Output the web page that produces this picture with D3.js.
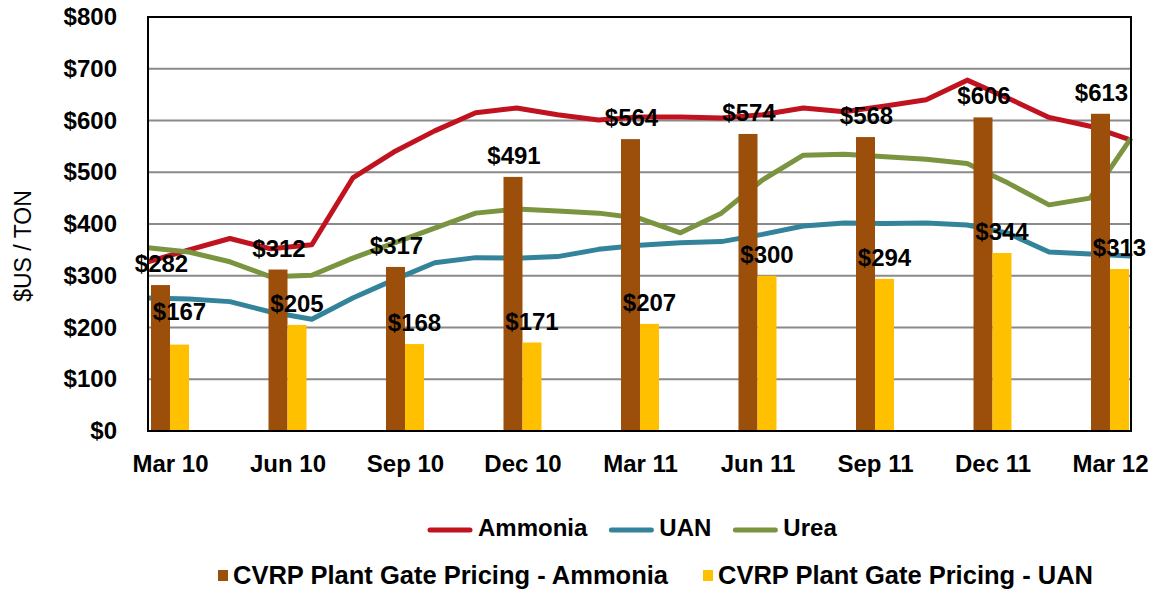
<!DOCTYPE html>
<html>
<head>
<meta charset="utf-8">
<script src="https://cdn.jsdelivr.net/npm/d3@7"></script>
<style>
  body { margin: 0; background: #fff; }
  text { font-family: "Liberation Sans", Arial, sans-serif; }
</style>
</head>
<body>
<div id="chart"></div>
<script>
// quarterly plant gate prices (bars)
const quarters = ["Mar 10", "Jun 10", "Sep 10", "Dec 10", "Mar 11", "Jun 11", "Sep 11", "Dec 11", "Mar 12"];
const gateAmmonia = [282, 312, 317, 491, 564, 574, 568, 606, 613];
const gateUAN = [167, 205, 168, 171, 207, 300, 294, 344, 313];

// monthly market prices (lines), Mar 10 .. Mar 12
const months = d3.range(25);
const ammonia = [327, 350, 372, 352, 360, 489, 539, 580, 615, 624, 611, 601, 607, 607, 605, 611, 624, 617, 628, 640, 678, 643, 606, 589, 562];
const uan = [257, 255, 250, 230, 216, 257, 292, 325, 335, 334, 337, 351, 359, 364, 366, 380, 396, 402, 401, 402, 398, 382, 346, 342, 338];
const urea = [354, 346, 327, 298, 301, 334, 363, 392, 421, 429, 425, 421, 411, 383, 421, 485, 533, 535, 530, 525, 517, 479, 437, 450, 566];

const yTicks = [0, 100, 200, 300, 400, 500, 600, 700, 800];

const COLORS = {
    ammonia: "#C0131F",
    uan: "#33849A",
    urea: "#7A9440",
    gateAmmonia: "#9C4F0B",
    gateUAN: "#FFC000",
    grid: "#8a8a8a"
};

const CONFIG = {
    width: 1152,
    height: 593,
    margin: { top: 17, left: 148, right: 21, bottom: 162 }
};

function render() {
    const W = CONFIG.width - CONFIG.margin.left - CONFIG.margin.right;
    const H = CONFIG.height - CONFIG.margin.top - CONFIG.margin.bottom;

    const svg = d3.select("#chart").append("svg")
        .attr("width", CONFIG.width)
        .attr("height", CONFIG.height);

    const g = svg.append("g")
        .attr("transform", `translate(${CONFIG.margin.left},${CONFIG.margin.top})`);

    const y = d3.scaleLinear().domain([0, 800]).range([H, 0]);
    const xq = d3.scalePoint().domain(quarters).range([22, W - 21]);
    const xm = d3.scalePoint().domain(months).range([0, W]);
    const barW = 19;

    // grid
    g.append("g").selectAll("line")
        .data(yTicks.filter(d => d > 0 && d < 800))
        .join("line")
        .attr("x1", 0).attr("x2", W)
        .attr("y1", d => y(d)).attr("y2", d => y(d))
        .attr("stroke", COLORS.grid)
        .attr("stroke-width", 2);

    // lines
    const line = d3.line()
        .x((d, i) => xm(i))
        .y(d => y(d));
    [[ammonia, COLORS.ammonia], [uan, COLORS.uan], [urea, COLORS.urea]].forEach(([vals, col]) => {
        g.append("path")
            .datum(vals)
            .attr("d", line)
            .attr("fill", "none")
            .attr("stroke", col)
            .attr("stroke-width", 5)
            .attr("stroke-linejoin", "round");
    });

    // bars
    g.append("g").selectAll("rect")
        .data(quarters)
        .join("rect")
        .attr("x", d => xq(d) - barW)
        .attr("y", (d, i) => y(gateAmmonia[i]))
        .attr("width", barW)
        .attr("height", (d, i) => H - y(gateAmmonia[i]))
        .attr("fill", COLORS.gateAmmonia);

    g.append("g").selectAll("rect")
        .data(quarters)
        .join("rect")
        .attr("x", d => xq(d))
        .attr("y", (d, i) => y(gateUAN[i]))
        .attr("width", barW)
        .attr("height", (d, i) => H - y(gateUAN[i]))
        .attr("fill", COLORS.gateUAN);

    // frame
    g.append("rect")
        .attr("width", W).attr("height", H)
        .attr("fill", "none")
        .attr("stroke", "#000")
        .attr("stroke-width", 2);

    // value labels
    const labelStyle = sel => sel
        .attr("text-anchor", "middle")
        .attr("font-size", 24)
        .attr("font-weight", "bold")
        .attr("fill", "#000");

    g.append("g").selectAll("text")
        .data(quarters)
        .join("text")
        .attr("x", d => xq(d) - barW / 2 + 1)
        .attr("y", (d, i) => y(gateAmmonia[i]) - 13)
        .text((d, i) => "$" + gateAmmonia[i])
        .call(labelStyle);

    g.append("g").selectAll("text")
        .data(quarters)
        .join("text")
        .attr("x", d => xq(d) + barW / 2)
        .attr("y", (d, i) => y(gateUAN[i]) - (i === 0 ? 25 : 13))
        .text((d, i) => "$" + gateUAN[i])
        .call(labelStyle);

    // axes
    const yAxis = g.append("g")
        .call(d3.axisLeft(y).tickValues(yTicks).tickSize(0).tickPadding(31).tickFormat(d => "$" + d));
    yAxis.select(".domain").remove();
    yAxis.selectAll("text")
        .attr("font-size", 24).attr("font-weight", "bold").attr("fill", "#000")
        .style("font-family", "'Liberation Sans', Arial, sans-serif");

    const xAxis = g.append("g")
        .attr("transform", `translate(0,${H})`)
        .call(d3.axisBottom(xq).tickSize(0).tickPadding(24));
    xAxis.select(".domain").remove();
    xAxis.selectAll("text")
        .attr("font-size", 24).attr("font-weight", "bold").attr("fill", "#000")
        .style("font-family", "'Liberation Sans', Arial, sans-serif");

    svg.append("text")
        .attr("transform", "translate(31,246) rotate(-90)")
        .attr("text-anchor", "middle")
        .attr("font-size", 23)
        .attr("fill", "#000")
        .text("$US / TON");

    // legend row 1 (lines)
    let lx = 428;
    [["Ammonia", COLORS.ammonia], ["UAN", COLORS.uan], ["Urea", COLORS.urea]].forEach(([name, col]) => {
        svg.append("line")
            .attr("x1", lx + 2).attr("x2", lx + 42)
            .attr("y1", 530).attr("y2", 530)
            .attr("stroke", col).attr("stroke-width", 5)
            .attr("stroke-linecap", "round");
        const t = svg.append("text")
            .attr("x", lx + 50).attr("y", 536)
            .attr("font-size", 24).attr("font-weight", "bold")
            .text(name);
        lx += 50 + t.node().getComputedTextLength() + 22;
    });

    // legend row 2 (bars)
    let bx = 218;
    [["CVRP Plant Gate Pricing - Ammonia", COLORS.gateAmmonia], ["CVRP Plant Gate Pricing - UAN", COLORS.gateUAN]].forEach(([name, col]) => {
        svg.append("rect")
            .attr("x", bx).attr("y", 570)
            .attr("width", 10).attr("height", 11)
            .attr("fill", col);
        const t = svg.append("text")
            .attr("x", bx + 15).attr("y", 584)
            .attr("font-size", 25.5).attr("font-weight", "bold")
            .text(name);
        bx += 15 + t.node().getComputedTextLength() + 35;
    });
}

document.addEventListener("DOMContentLoaded", render);
</script>
</body>
</html>
